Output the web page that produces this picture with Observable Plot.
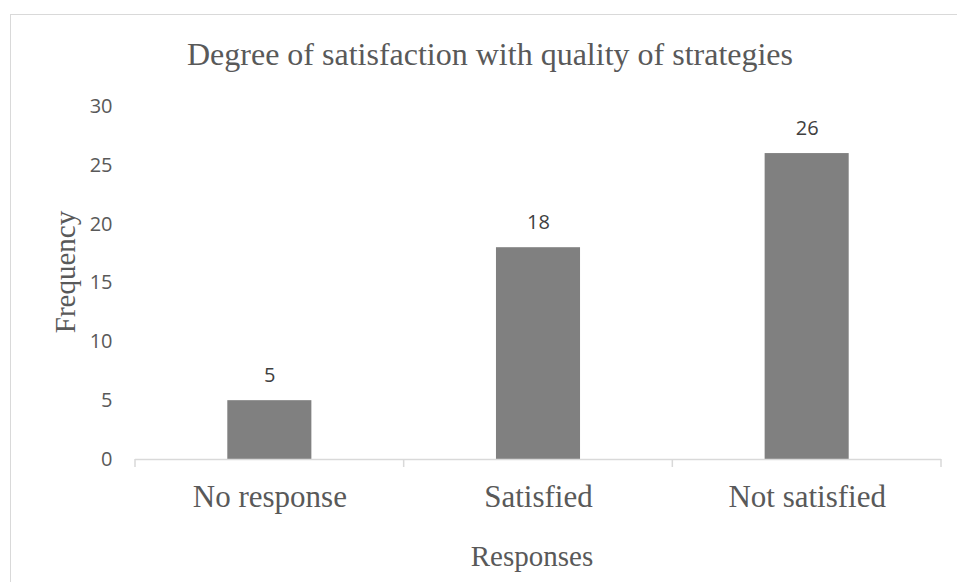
<!DOCTYPE html>
<html>
<head>
<meta charset="utf-8">
<script src="https://cdn.jsdelivr.net/npm/d3@7"></script>
<script src="https://cdn.jsdelivr.net/npm/@observablehq/plot@0.6"></script>
<style>
  html, body { margin: 0; padding: 0; background: #fff; overflow: hidden; }
  #wrap { position: relative; width: 957px; height: 582px; overflow: hidden; }
  #frame { position: absolute; left: 10px; top: 14px; width: 1000px; height: 700px;
           border: 1.5px solid #d9d9d9; box-sizing: border-box; }
  #chart { position: absolute; left: 0; top: 0; }
</style>
</head>
<body>
<div id="wrap"><div id="frame"></div><div id="chart"></div></div>
<script>
// Survey responses: degree of satisfaction with quality of strategies
const categories = ["No response", "Satisfied", "Not satisfied"];
const frequencies = [5, 18, 26];
const yTicks = [0, 5, 10, 15, 20, 25, 30];

const data = categories.map((response, i) => ({response, count: frequencies[i]}));

const serif = "'Liberation Serif', 'Times New Roman', serif";
const sans = "'Open Sans', 'Noto Sans', sans-serif";
const textGray = "#595959";
const lineGray = "#d9d9d9";

// Small downward ticks at the category boundaries along the baseline
function boundaryTicks(index, scales, values, dims) {
  const bw = (dims.width - dims.marginLeft - dims.marginRight) / categories.length;
  const pos = categories.map(c => scales.x(c));
  pos.push(scales.x(categories[categories.length - 1]) + bw);
  const y0 = scales.y(0);
  const g = d3.create("svg:g");
  g.selectAll("line").data(pos).join("line")
    .attr("x1", d => d).attr("x2", d => d)
    .attr("y1", y0).attr("y2", y0 + 8)
    .attr("stroke", lineGray).attr("stroke-width", 1.5);
  return g.node();
}

const chart = Plot.plot({
  width: 957,
  height: 582,
  marginLeft: 135,
  marginRight: 16,
  marginTop: 106,
  marginBottom: 123,
  style: {background: "transparent", fontFamily: sans, fontSize: "20px", color: textGray, overflow: "visible"},
  x: {domain: categories, padding: 0, round: false, label: null, axis: null},
  y: {domain: [0, 30], label: null, axis: null},
  marks: [
    Plot.axisY({ticks: yTicks, tickSize: 0, tickPadding: 23, fontSize: 20, fontFamily: sans, label: null}),
    Plot.axisX({tickSize: 0, tickPadding: 25, fontSize: 31, fontFamily: serif, label: null}),
    Plot.barY(data, {x: "response", y: "count", fill: "#808080", insetLeft: 92.3, insetRight: 92.3}),
    Plot.ruleY([0], {stroke: lineGray, strokeWidth: 1.5}),
    boundaryTicks,
    Plot.text(data, {x: "response", y: "count", text: d => String(d.count), dy: -19,
                     lineAnchor: "bottom", fill: "#404040", fontSize: 20, fontFamily: sans})
  ]
});

const svg = d3.select(chart);
svg.append("text")
  .attr("x", 490).attr("y", 65)
  .attr("text-anchor", "middle")
  .attr("font-family", serif).attr("font-size", 32).attr("fill", textGray)
  .text("Degree of satisfaction with quality of strategies");
svg.append("text")
  .attr("transform", "translate(75,272) rotate(-90)")
  .attr("text-anchor", "middle")
  .attr("font-family", serif).attr("font-size", 29).attr("fill", textGray)
  .text("Frequency");
svg.append("text")
  .attr("x", 532).attr("y", 566)
  .attr("text-anchor", "middle")
  .attr("font-family", serif).attr("font-size", 29).attr("fill", textGray)
  .text("Responses");

document.getElementById("chart").append(chart);
</script>
</body>
</html>
